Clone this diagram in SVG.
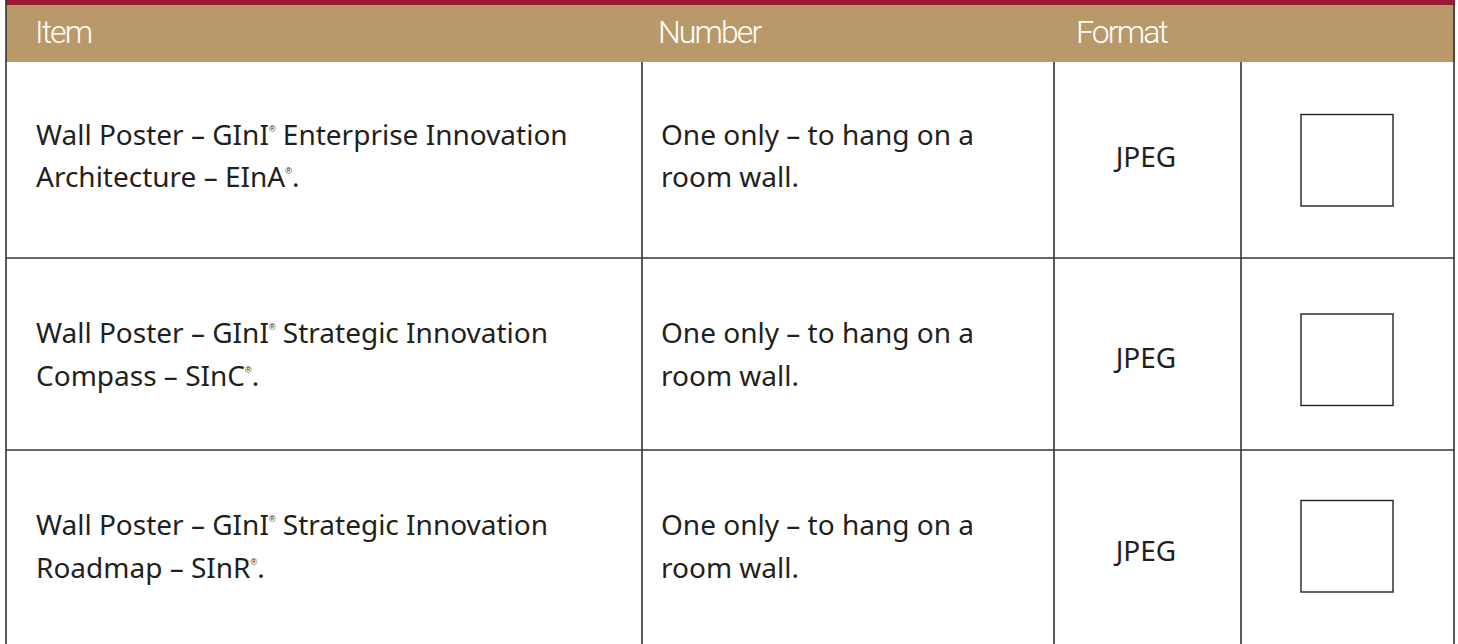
<svg xmlns="http://www.w3.org/2000/svg" width="1458" height="644" viewBox="0 0 1458 644">
<style>
.hdr{font-family:"Roboto","Liberation Sans",sans-serif;font-size:32px;fill:#ffffff;font-weight:300;letter-spacing:-1.9px}
.t{font-family:"Noto Sans","Open Sans",sans-serif;font-size:28px;fill:#231f20}
.sup{font-family:"Liberation Sans",sans-serif;font-size:9px;fill:#231f20}
.ln{stroke:#333333;stroke-width:1.6;fill:none}
.box{stroke:#222222;stroke-width:1.4;fill:#ffffff}
</style>
<rect x="0" y="0" width="1458" height="644" fill="#ffffff"/>
<g id="header">
<rect x="6" y="0" width="1449" height="6" fill="#961b32"/>
<rect x="6" y="5" width="1449" height="57" fill="#b99969"/>
<text class="hdr" x="35" y="43">Item</text>
<text class="hdr" x="658" y="43">Number</text>
<text class="hdr" x="1076" y="43">Format</text>
</g>
<g id="grid">
<line class="ln" x1="6" y1="0" x2="6" y2="644"/>
<line class="ln" x1="1454" y1="5" x2="1454" y2="644"/>
<line class="ln" x1="642" y1="62" x2="642" y2="644"/>
<line class="ln" x1="1054" y1="62" x2="1054" y2="644"/>
<line class="ln" x1="1241" y1="62" x2="1241" y2="644"/>
<line class="ln" x1="6" y1="258" x2="1454" y2="258"/>
<line class="ln" x1="6" y1="450" x2="1454" y2="450"/>
</g>
<g id="row1">
<text class="t" x="36" y="145">Wall Poster – GInI<tspan class="sup" dy="-13">®</tspan><tspan dy="13"> Enterprise Innovation</tspan></text>
<text class="t" x="36" y="187">Architecture – EInA<tspan class="sup" dy="-13">®</tspan><tspan dy="13">.</tspan></text>
<text class="t" x="661" y="145">One only – to hang on a</text>
<text class="t" x="661" y="187">room wall.</text>
<text class="t" x="1146" y="167" text-anchor="middle">JPEG</text>
<rect class="box" x="1301" y="114.5" width="92" height="91.5"/>
</g>
<g id="row2">
<text class="t" x="36" y="343">Wall Poster – GInI<tspan class="sup" dy="-13">®</tspan><tspan dy="13"> Strategic Innovation</tspan></text>
<text class="t" x="36" y="386">Compass – SInC<tspan class="sup" dy="-13">®</tspan><tspan dy="13">.</tspan></text>
<text class="t" x="661" y="343">One only – to hang on a</text>
<text class="t" x="661" y="386">room wall.</text>
<text class="t" x="1146" y="368" text-anchor="middle">JPEG</text>
<rect class="box" x="1301" y="314" width="92" height="91.5"/>
</g>
<g id="row3">
<text class="t" x="36" y="535">Wall Poster – GInI<tspan class="sup" dy="-13">®</tspan><tspan dy="13"> Strategic Innovation</tspan></text>
<text class="t" x="36" y="578">Roadmap – SInR<tspan class="sup" dy="-13">®</tspan><tspan dy="13">.</tspan></text>
<text class="t" x="661" y="535">One only – to hang on a</text>
<text class="t" x="661" y="578">room wall.</text>
<text class="t" x="1146" y="561" text-anchor="middle">JPEG</text>
<rect class="box" x="1301" y="500.5" width="92" height="91.5"/>
</g>
</svg>
